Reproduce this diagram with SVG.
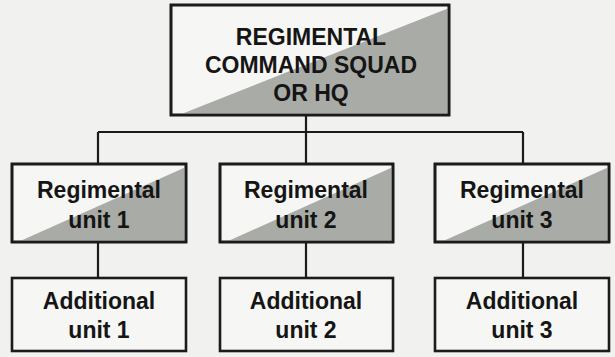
<svg xmlns="http://www.w3.org/2000/svg" width="615" height="357" viewBox="0 0 615 357">
<style>
.box{fill:#f6f6f4;stroke:#1b1b1b;stroke-width:2.6}
.shade{fill:#a9aba6}
.frame{fill:none;stroke:#1b1b1b;stroke-width:2.6}
.lbl{font-family:"Liberation Sans",Arial,sans-serif;font-weight:bold;font-size:23px;fill:#151515;text-anchor:middle}
.conn{stroke:#1b1b1b;stroke-width:2.2;fill:none}
</style>
<rect width="615" height="357" fill="#f1f1ef"/>
<g id="connectors">
<path class="conn" d="M306 115 V132 M98 132 H523 M98 132 V164 M306 132 V164 M523 132 V164"/>
<path class="conn" d="M98 242 V278 M306 242 V278 M523 242 V278"/>
</g>
<g id="hq">
<rect class="box" x="171" y="5" width="278" height="110"/>
<polygon class="shade" points="179,115 449,8 449,115"/>
<rect class="frame" x="171" y="5" width="278" height="110"/>
<text class="lbl" x="311" y="45">REGIMENTAL</text>
<text class="lbl" x="311" y="73">COMMAND SQUAD</text>
<text class="lbl" x="311" y="101">OR HQ</text>
</g>
<g id="reg1">
<rect class="box" x="12" y="164" width="174" height="78"/>
<polygon class="shade" points="18,242 186,167 186,242"/>
<rect class="frame" x="12" y="164" width="174" height="78"/>
<text class="lbl" x="99" y="198">Regimental</text>
<text class="lbl" x="99" y="228">unit 1</text>
</g>
<g id="reg2">
<rect class="box" x="220" y="164" width="173" height="78"/>
<polygon class="shade" points="226,242 393,167 393,242"/>
<rect class="frame" x="220" y="164" width="173" height="78"/>
<text class="lbl" x="306" y="198">Regimental</text>
<text class="lbl" x="306" y="228">unit 2</text>
</g>
<g id="reg3">
<rect class="box" x="435" y="164" width="174" height="78"/>
<polygon class="shade" points="441,242 609,167 609,242"/>
<rect class="frame" x="435" y="164" width="174" height="78"/>
<text class="lbl" x="522" y="198">Regimental</text>
<text class="lbl" x="522" y="228">unit 3</text>
</g>
<g id="add1">
<rect class="box" x="12" y="278" width="174" height="73"/>
<text class="lbl" x="99" y="309">Additional</text>
<text class="lbl" x="99" y="338">unit 1</text>
</g>
<g id="add2">
<rect class="box" x="220" y="278" width="173" height="73"/>
<text class="lbl" x="306" y="309">Additional</text>
<text class="lbl" x="306" y="338">unit 2</text>
</g>
<g id="add3">
<rect class="box" x="435" y="278" width="174" height="73"/>
<text class="lbl" x="522" y="309">Additional</text>
<text class="lbl" x="522" y="338">unit 3</text>
</g>
</svg>
